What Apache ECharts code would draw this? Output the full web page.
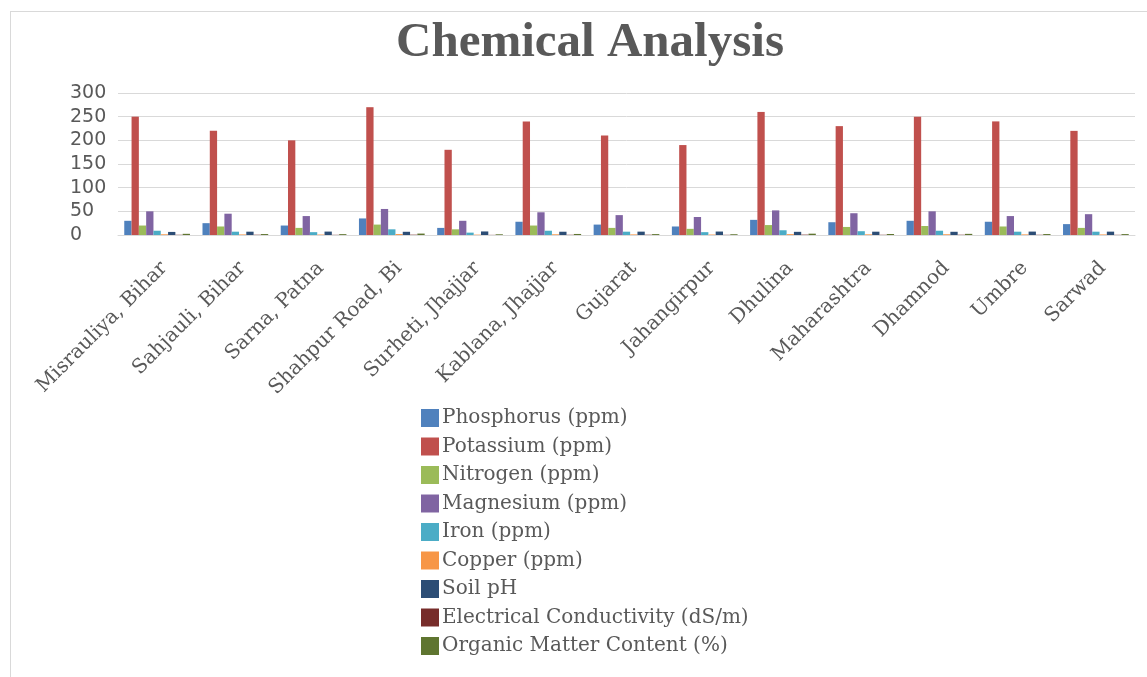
<!DOCTYPE html>
<html>
<head>
<meta charset="utf-8">
<title>Chemical Analysis</title>
<script src="https://cdn.jsdelivr.net/npm/echarts@6/dist/echarts.min.js"></script>
<style>
  html, body { margin: 0; padding: 0; background: #fff; overflow: hidden; }
  #frame { position: absolute; left: 10px; top: 11px; width: 1200px; height: 700px; border: 1px solid #d9d9d9; }
  #chart { position: absolute; left: 0; top: 0; width: 1147px; height: 677px; }
</style>
</head>
<body>
<div id="frame"></div>
<div id="chart"></div>
<script>
// Sample locations (x axis)
const categories = ['Misrauliya, Bihar', 'Sahjauli, Bihar', 'Sarna, Patna', 'Shahpur Road, Bihar',
  'Surheti, Jhajjar', 'Kablana, Jhajjar', 'Gujarat', 'Jahangirpur', 'Dhulina', 'Maharashtra',
  'Dhamnod', 'Umbre', 'Sarwad'];

// Values
const phosphorus = [30, 25, 20, 35, 15, 28, 22, 18, 32, 27, 30, 28, 23];
const potassium = [250, 220, 200, 270, 180, 240, 210, 190, 260, 230, 250, 240, 220];
const nitrogen = [20, 18, 15, 22, 12, 20, 15, 13, 21, 17, 19, 18, 15];
const magnesium = [50, 45, 40, 55, 30, 48, 42, 38, 52, 46, 50, 40, 44];
const iron = [9, 7, 6, 12, 5, 9, 7, 6, 10, 8, 9, 7, 7];
const copper = [1.5, 1.2, 1.0, 2.0, 0.8, 1.5, 1.3, 1.0, 1.8, 1.4, 1.6, 1.3, 1.2];
const soilPH = [6.5, 7.0, 7.2, 6.8, 7.5, 6.9, 7.1, 7.3, 6.7, 7.0, 6.8, 7.2, 7.1];
const conductivity = [0.5, 0.6, 0.4, 0.7, 0.3, 0.5, 0.6, 0.4, 0.8, 0.5, 0.6, 0.5, 0.4];
const organicMatter = [2.5, 2.0, 1.8, 3.0, 1.5, 2.2, 1.9, 1.6, 2.8, 2.1, 2.4, 2.0, 1.9];

const seriesNames = ['Phosphorus (ppm)', 'Potassium (ppm)', 'Nitrogen (ppm)', 'Magnesium (ppm)',
  'Iron (ppm)', 'Copper (ppm)', 'Soil pH', 'Electrical Conductivity (dS/m)', 'Organic Matter Content (%)'];
const seriesData = [phosphorus, potassium, nitrogen, magnesium, iron, copper, soilPH, conductivity, organicMatter];
const colors = ['#4F81BD', '#C0504D', '#9BBB59', '#8064A2', '#4BACC6', '#F79646', '#2C4D75', '#772C2A', '#5F7530'];

const textColor = '#595959';
const serif = '"DejaVu Serif", serif';

// label width so the long Shahpur label gets clipped like in the original
const ctx = document.createElement('canvas').getContext('2d');
ctx.font = '20px ' + serif;
const labelWidth = Math.ceil(Math.max(
  ctx.measureText('Misrauliya, Bihar').width,
  ctx.measureText('Shahpur Road, Bi').width)) + 12;

const chart = echarts.init(document.getElementById('chart'));

const option = {
  animation: false,
  color: colors,
  title: {
    text: 'Chemical Analysis',
    left: 585,
    textAlign: 'center',
    top: 14,
    textStyle: {
      fontFamily: '"Liberation Serif", serif',
      fontWeight: 'bold',
      fontSize: 49,
      color: textColor
    }
  },
  legend: {
    orient: 'vertical',
    left: 416,
    top: 403,
    height: 260,
    itemWidth: 18,
    itemHeight: 18,
    itemGap: 8.5,
    icon: 'rect',
    data: seriesNames,
    textStyle: {
      fontFamily: serif,
      fontSize: 20,
      color: textColor,
      padding: [0, 0, 0, -2]
    }
  },
  grid: {
    left: 118,
    right: 12,
    top: 93,
    bottom: 442
  },
  xAxis: {
    type: 'category',
    data: categories,
    axisLine: { lineStyle: { color: '#d9d9d9', width: 1 } },
    axisTick: { show: false },
    axisLabel: {
      rotate: 45,
      interval: 0,
      margin: 23,
      verticalAlign: 'top',
      width: labelWidth,
      overflow: 'truncate',
      ellipsis: '',
      fontFamily: serif,
      fontSize: 20,
      color: textColor
    }
  },
  yAxis: {
    type: 'value',
    min: 0,
    max: 300,
    interval: 50,
    axisLine: { show: false },
    axisTick: { show: false },
    splitLine: { lineStyle: { color: '#d9d9d9', width: 1 } },
    axisLabel: {
      align: 'left',
      margin: 48,
      fontFamily: '"DejaVu Sans", sans-serif',
      fontSize: 19,
      color: textColor
    }
  },
  series: seriesNames.map((name, i) => ({
    name: name,
    type: 'bar',
    data: seriesData[i],
    barGap: '0%',
    barCategoryGap: '16%'
  }))
};

chart.setOption(option);
</script>
</body>
</html>
